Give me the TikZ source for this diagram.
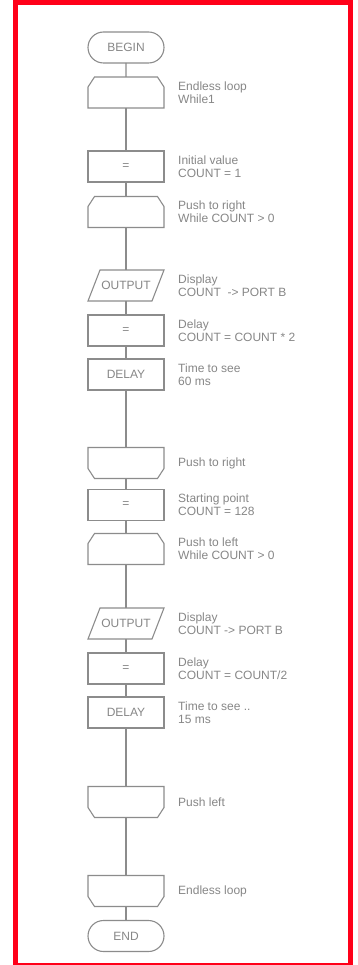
\documentclass[tikz,border=0pt]{standalone}
\usepackage{fontspec}
\setmainfont{Liberation Sans}
\usetikzlibrary{shapes.misc}
\definecolor{framered}{RGB}{255,0,25}
\definecolor{linegray}{RGB}{140,140,140}
\definecolor{textgray}{RGB}{135,135,135}
\newcommand{\loopstartshape}[1]{%
  \draw[flow] ([xshift=6.5pt]#1.north west) -- ([xshift=-6.5pt]#1.north east)
    -- ([yshift=-10pt]#1.north east) -- (#1.south east) -- (#1.south west)
    -- ([yshift=-10pt]#1.north west) -- cycle;}
\newcommand{\loopendshape}[1]{%
  \draw[flow] (#1.north west) -- (#1.north east)
    -- ([yshift=10pt]#1.south east) -- ([xshift=-6.5pt]#1.south east)
    -- ([xshift=6.5pt]#1.south west) -- ([yshift=10pt]#1.south west) -- cycle;}
\newcommand{\ioshape}[1]{%
  \draw[flow] ([xshift=12pt]#1.north west) -- (#1.north east)
    -- ([xshift=-12pt]#1.south east) -- (#1.south west) -- cycle;}
\begin{document}
\begin{tikzpicture}[x=1pt,y=-1pt,
  box/.style={minimum width=76pt, minimum height=31pt,
    inner sep=0pt, outer sep=0pt, text=textgray, font=\fontsize{12}{13}\selectfont},
  term/.style={box, draw=linegray, line width=1.1pt, rounded rectangle},
  proc/.style={box, draw=linegray, line width=1.1pt, rectangle},
  loopstart/.style={box, rectangle},
  loopend/.style={box, rectangle},
  io/.style={box, rectangle},
  note/.style={anchor=west, align=left, inner sep=0pt, text=textgray,
    font=\fontsize{12}{13}\selectfont, xshift=14pt},
  flow/.style={draw=linegray, line width=1.1pt, line join=miter}]
\useasboundingbox (0,0) rectangle (357,965);
\fill[white] (0,0) rectangle (357,965);
\fill[framered] (13,0) rectangle (353,965);
\fill[white] (18,5) rectangle (348,962.7);

\node[term] (begin) at (126,47.5) {BEGIN};
\node[loopstart] (l1) at (126,92.5) {};
\node[proc] (r1) at (126,166.5) {=};
\node[loopstart] (l2) at (126,212) {};
\node[io] (o1) at (126,285.5) {OUTPUT};
\node[proc] (r2) at (126,330.5) {=};
\node[proc] (d1) at (126,374.5) {DELAY};
\node[loopend] (e1) at (126,463) {};
\node[proc] (r3) at (126,505) {=};
\node[loopstart] (l3) at (126,549) {};
\node[io] (o2) at (126,623.5) {OUTPUT};
\node[proc] (r4) at (126,668.5) {=};
\node[proc] (d2) at (126,712.5) {DELAY};
\node[loopend] (e2) at (126,802) {};
\node[loopend] (e3) at (126,891) {};
\node[term] (end) at (126,936) {END};

\loopstartshape{l1}
\loopstartshape{l2}
\loopstartshape{l3}
\loopendshape{e1}
\loopendshape{e2}
\loopendshape{e3}
\ioshape{o1}
\ioshape{o2}

\node[note] (t1) at (l1.east) {Endless loop\\While1};
\node[note] (t2) at (r1.east) {Initial value\\COUNT = 1};
\node[note] (t3) at (l2.east) {Push to right\\While COUNT > 0};
\node[note] (t4) at (o1.east) {Display\\COUNT~~-{}> PORT B};
\node[note] (t5) at (r2.east) {Delay\\COUNT = COUNT * 2};
\node[note] (t6) at (d1.east) {Time to see\\60 ms};
\node[note] (t7) at (e1.east) {Push to right};
\node[note] (t8) at (r3.east) {Starting point\\COUNT = 128};
\node[note] (t9) at (l3.east) {Push to left\\While COUNT > 0};
\node[note] (t10) at (o2.east) {Display\\COUNT -{}> PORT B};
\node[note] (t11) at (r4.east) {Delay\\COUNT = COUNT/2};
\node[note] (t12) at (d2.east) {Time to see ..\\15 ms};
\node[note] (t13) at (e2.east) {Push left};
\node[note] (t14) at (e3.east) {Endless loop};

\draw[flow] (begin) -- (l1);
\draw[flow] (l1) -- (r1);
\draw[flow] (r1) -- (l2);
\draw[flow] (l2) -- (o1);
\draw[flow] (o1) -- (r2);
\draw[flow] (r2) -- (d1);
\draw[flow] (d1) -- (e1);
\draw[flow] (e1) -- (r3);
\draw[flow] (r3) -- (l3);
\draw[flow] (l3) -- (o2);
\draw[flow] (o2) -- (r4);
\draw[flow] (r4) -- (d2);
\draw[flow] (d2) -- (e2);
\draw[flow] (e2) -- (e3);
\draw[flow] (e3) -- (end);
\end{tikzpicture}
\end{document}
